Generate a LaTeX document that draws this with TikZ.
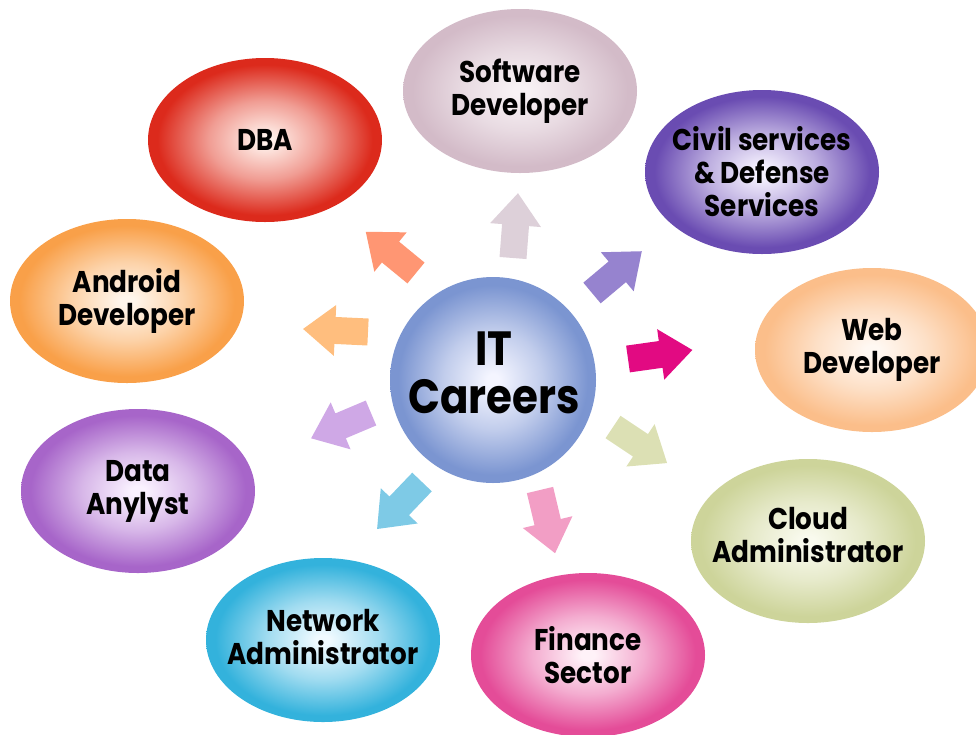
\documentclass[tikz,border=0pt]{standalone}
\usepackage{fontspec}
\setmainfont[FakeStretch=0.875]{Poppins}
\usetikzlibrary{shapes.geometric}
\makeatletter
\pgfdeclareradialshading[tikz@radial@inner,tikz@radial@outer]{soft}{\pgfpointorigin}{color(0bp)=(tikz@radial@inner); color(1.5bp)=(tikz@radial@inner); color(12bp)=(tikz@radial@outer!42!tikz@radial@inner); color(23bp)=(tikz@radial@outer); color(50bp)=(tikz@radial@outer)}
\makeatother
\definecolor{arSoft}{HTML}{DDD0D9}
\definecolor{arDba}{HTML}{FF9673}
\definecolor{arCivil}{HTML}{9683CF}
\definecolor{arWeb}{HTML}{E20A82}
\definecolor{arCloud}{HTML}{DCE0B4}
\definecolor{arFin}{HTML}{F29EC5}
\definecolor{arNet}{HTML}{7ECAE6}
\definecolor{arData}{HTML}{CFA8E6}
\definecolor{arAndr}{HTML}{FFBE7E}
\definecolor{inDba}{HTML}{FFF0EA}\definecolor{outDba}{HTML}{DC2A1C}
\definecolor{inAndr}{HTML}{FFF6EC}\definecolor{outAndr}{HTML}{F9A049}
\definecolor{inSoft}{HTML}{F8F2F5}\definecolor{outSoft}{HTML}{D3BBC8}
\definecolor{inCivil}{HTML}{F6F2FF}\definecolor{outCivil}{HTML}{6A4CB2}
\definecolor{inWeb}{HTML}{FFF8F2}\definecolor{outWeb}{HTML}{FBBE8A}
\definecolor{inCloud}{HTML}{F9FAEE}\definecolor{outCloud}{HTML}{CDD49A}
\definecolor{inFin}{HTML}{FFF2F8}\definecolor{outFin}{HTML}{E44C98}
\definecolor{inNet}{HTML}{F0FAFF}\definecolor{outNet}{HTML}{33B2DC}
\definecolor{inData}{HTML}{FAF2FF}\definecolor{outData}{HTML}{A765C9}
\definecolor{inIT}{HTML}{F4F5FF}\definecolor{outIT}{HTML}{7B95D1}
\tikzset{
  blob/.style 2 args={shape=ellipse, minimum width=234pt, minimum height=164pt, inner sep=0pt,
    inner color=#1, outer color=#2, shading=soft},
  lbl/.style={font=\fontsize{30}{33}\selectfont\bfseries, align=center, text=black, inner sep=0pt},
  blockarrow/.style={fill=#1}
}
\begin{document}
\begin{tikzpicture}[x=1pt,y=-1pt]
\useasboundingbox (0,0) rectangle (976,734);
% career ellipses
\node[blob={inDba}{outDba}] (dba) at (265,140) {};
\node[blob={inAndr}{outAndr}] (andr) at (127,301) {};
\node[blob={inSoft}{outSoft}] (soft) at (520,91) {};
\node[blob={inCivil}{outCivil}] (civil) at (762,172) {};
\node[blob={inWeb}{outWeb}] (web) at (872,350) {};
\node[blob={inCloud}{outCloud}] (cloud) at (808,541) {};
\node[blob={inFin}{outFin}] (fin) at (588,655) {};
\node[blob={inNet}{outNet}] (net) at (323,640) {};
\node[blob={inData}{outData}] (data) at (138,491) {};
% centre
\node[shape=circle, minimum size=206pt, inner sep=0pt, inner color=inIT, outer color=outIT, shading=soft] (it) at (493,380) {};
% labels
\node[lbl] (tdba) at (dba) {DBA};
\node[lbl] (tandr) at (andr) {Android\\Developer};
\node[lbl] (tsoft) at (soft) {Software\\Developer};
\node[lbl] (tcivil) at (civil) {Civil services\\\&~Defense\\Services};
\node[lbl] (tweb) at (web) {Web\\Developer};
\node[lbl] (tcloud) at ([yshift=6pt]cloud.center) {Cloud\\Administrator};
\node[lbl] (tfin) at (fin) {Finance\\Sector};
\node[lbl] (tnet) at ([yshift=3pt]net.center) {Network\\Administrator};
\node[lbl] (tdata) at (data) {Data\\Anylyst};
\node[lbl, font=\fontsize{48}{48}\selectfont\bfseries] (tit) at (494,373) {IT\\Careers};
% block arrows
\foreach \x/\y/\a/\c in {513/258/85.6/arSoft, 416/273/140.6/arDba, 592/293/40/arCivil,
  628/359/8/arWeb, 613/427/-33.7/arCloud, 540/490/-76.6/arFin, 422/482/-133.7/arNet,
  371/413/-157.1/arData, 368/332/177.3/arAndr}
  \fill[blockarrow=\c, shift={(\x,\y)}, rotate=\a]
    (0,-13.5) -- (33,-13.5) -- (33,-25.5) -- (65,0) -- (33,25.5) -- (33,13.5) -- (0,13.5) -- cycle;
\end{tikzpicture}
\end{document}
